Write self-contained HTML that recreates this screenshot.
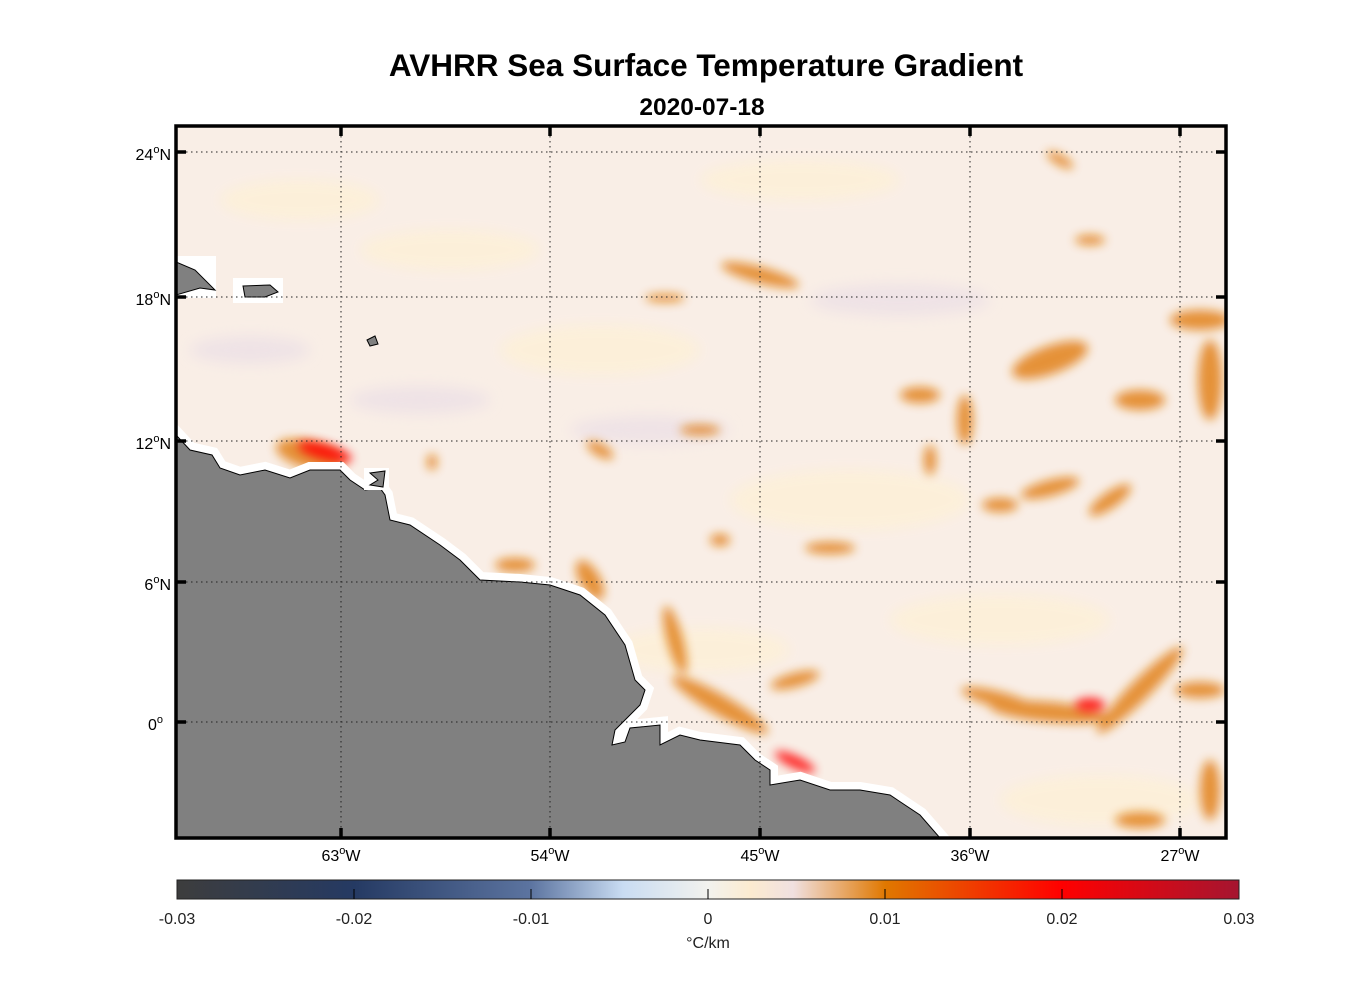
<!DOCTYPE html>
<html><head><meta charset="utf-8"><style>
html,body{margin:0;padding:0;background:#fff;}
svg{display:block;font-family:"Liberation Sans",Arial,sans-serif;}
</style></head><body>
<svg width="1356" height="1000" viewBox="0 0 1356 1000" xmlns="http://www.w3.org/2000/svg">
<defs>
<filter id="b" x="-30%" y="-30%" width="160%" height="160%"><feGaussianBlur stdDeviation="5"/></filter>
<filter id="b2" x="-30%" y="-30%" width="160%" height="160%"><feGaussianBlur stdDeviation="7"/></filter>
<linearGradient id="cb" x1="0" x2="1" y1="0" y2="0">
<stop offset="0" stop-color="#3d3d3d"/>
<stop offset="0.167" stop-color="#253a63"/>
<stop offset="0.333" stop-color="#5c74a0"/>
<stop offset="0.42" stop-color="#c9dcf2"/>
<stop offset="0.5" stop-color="#f2f2ee"/>
<stop offset="0.54" stop-color="#fcebd0"/>
<stop offset="0.58" stop-color="#f0e0e0"/>
<stop offset="0.667" stop-color="#e07800"/>
<stop offset="0.833" stop-color="#ff0000"/>
<stop offset="1" stop-color="#a51530"/>
</linearGradient>
<clipPath id="ax"><rect x="176" y="126" width="1050" height="712"/></clipPath>
</defs>

<text x="706" y="76" text-anchor="middle" font-size="31.5" font-weight="bold">AVHRR Sea Surface Temperature Gradient</text>
<text x="702" y="115" text-anchor="middle" font-size="24.5" font-weight="bold">2020-07-18</text>

<g clip-path="url(#ax)">
<rect x="176" y="126" width="1050" height="712" fill="#f9eee6"/>
<g filter="url(#b2)" fill="#fdf0d8" opacity="0.9">
<ellipse cx="300" cy="200" rx="80" ry="20"/><ellipse cx="600" cy="350" rx="100" ry="25"/>
<ellipse cx="850" cy="500" rx="120" ry="30"/><ellipse cx="1000" cy="620" rx="110" ry="25"/>
<ellipse cx="450" cy="250" rx="90" ry="20"/><ellipse cx="800" cy="180" rx="100" ry="20"/>
<ellipse cx="700" cy="650" rx="90" ry="22"/><ellipse cx="1100" cy="800" rx="100" ry="25"/>
</g>
<g filter="url(#b2)" fill="#ece0e6" opacity="0.8">
<ellipse cx="420" cy="400" rx="70" ry="14"/><ellipse cx="650" cy="430" rx="80" ry="14"/>
<ellipse cx="900" cy="300" rx="90" ry="16"/><ellipse cx="250" cy="350" rx="60" ry="14"/>
</g>
<g filter="url(#b)" fill="#e07a10" opacity="0.8">
<ellipse cx="1050" cy="360" rx="40" ry="14" transform="rotate(-20 1050 360)"/>
<ellipse cx="1200" cy="320" rx="30" ry="10"/>
<ellipse cx="1210" cy="380" rx="12" ry="40"/>
<ellipse cx="1140" cy="400" rx="25" ry="10"/>
<ellipse cx="920" cy="395" rx="20" ry="8"/>
<ellipse cx="965" cy="420" rx="8" ry="25"/>
<ellipse cx="1050" cy="488" rx="30" ry="8" transform="rotate(-15 1050 488)"/>
<ellipse cx="1000" cy="505" rx="18" ry="7"/>
<ellipse cx="1110" cy="500" rx="25" ry="8" transform="rotate(-35 1110 500)"/>
<ellipse cx="1140" cy="690" rx="60" ry="10" transform="rotate(-45 1140 690)"/>
<ellipse cx="1050" cy="712" rx="60" ry="10" transform="rotate(5 1050 712)"/>
<ellipse cx="1000" cy="700" rx="40" ry="8" transform="rotate(15 1000 700)"/>
<ellipse cx="1200" cy="690" rx="25" ry="8"/>
<ellipse cx="1210" cy="790" rx="10" ry="30"/>
<ellipse cx="1140" cy="820" rx="25" ry="8"/>
<ellipse cx="720" cy="705" rx="55" ry="10" transform="rotate(30 720 705)"/>
<ellipse cx="675" cy="640" rx="8" ry="35" transform="rotate(-15 675 640)"/>
<ellipse cx="795" cy="680" rx="25" ry="7" transform="rotate(-15 795 680)"/>
<ellipse cx="830" cy="548" rx="25" ry="6"/>
<ellipse cx="760" cy="275" rx="40" ry="8" transform="rotate(15 760 275)"/>
<ellipse cx="590" cy="580" rx="10" ry="22" transform="rotate(-30 590 580)"/>
<ellipse cx="515" cy="565" rx="20" ry="7"/>
<ellipse cx="310" cy="455" rx="35" ry="14" transform="rotate(15 310 455)"/>
<ellipse cx="432" cy="462" rx="5" ry="8"/>
<ellipse cx="600" cy="450" rx="15" ry="6" transform="rotate(30 600 450)"/>
<ellipse cx="720" cy="540" rx="10" ry="6"/>
<ellipse cx="1060" cy="160" rx="15" ry="5" transform="rotate(30 1060 160)"/>
<ellipse cx="1090" cy="240" rx="15" ry="5"/>
<ellipse cx="665" cy="298" rx="20" ry="4"/>
<ellipse cx="700" cy="430" rx="20" ry="5"/>
<ellipse cx="930" cy="460" rx="6" ry="15"/>
</g>
<g filter="url(#b)" fill="#f00" opacity="0.85">
<ellipse cx="325" cy="452" rx="28" ry="8" transform="rotate(15 325 452)"/>
<ellipse cx="795" cy="762" rx="22" ry="6" transform="rotate(25 795 762)"/>
<ellipse cx="1090" cy="705" rx="15" ry="7"/>
</g>
<path d="M176,435 L190,450 L212,455 L220,468 L240,475 L265,470 L290,478 L310,470 L340,470 L350,480 L365,490 L380,488 L385,495 L390,520 L410,525 L440,545 L460,560 L480,580 L520,582 L550,585 L580,595 L605,615 L625,645 L635,680 L645,690 L640,705 L615,730 L612,745 L625,742 L630,728 L660,725 L660,745 L680,735 L700,740 L740,745 L755,760 L770,770 L770,785 L800,780 L830,790 L860,790 L890,795 L920,815 L940,838 L176,838 Z" fill="#808080" stroke="#fff" stroke-width="16" stroke-linejoin="miter"/>
<path d="M176,435 L190,450 L212,455 L220,468 L240,475 L265,470 L290,478 L310,470 L340,470 L350,480 L365,490 L380,488 L385,495 L390,520 L410,525 L440,545 L460,560 L480,580 L520,582 L550,585 L580,595 L605,615 L625,645 L635,680 L645,690 L640,705 L615,730 L612,745 L625,742 L630,728 L660,725 L660,745 L680,735 L700,740 L740,745 L755,760 L770,770 L770,785 L800,780 L830,790 L860,790 L890,795 L920,815 L940,838 L176,838 Z" fill="#808080" stroke="#000" stroke-width="1"/>
<rect x="176" y="256" width="40" height="42" fill="#fff"/>
<path d="M176,262 L195,270 L215,290 L200,288 L176,295 Z" fill="#808080" stroke="#000"/>
<rect x="233" y="278" width="50" height="25" fill="#fff"/>
<path d="M243,286 L270,285 L278,292 L265,297 L245,297 Z" fill="#808080" stroke="#000"/>
<rect x="364" y="468" width="25" height="22" fill="#fff"/>
<path d="M370,473 L385,471 L383,487 L370,485 L378,480 Z" fill="#808080" stroke="#000"/>
<path d="M367,340 L375,336 L378,344 L370,346 Z" fill="#808080" stroke="#000"/>
</g>
<g stroke="#222" stroke-width="1" stroke-dasharray="1.5,3.5">
<line x1="341" y1="126" x2="341" y2="838"/><line x1="550" y1="126" x2="550" y2="838"/>
<line x1="760" y1="126" x2="760" y2="838"/><line x1="970" y1="126" x2="970" y2="838"/>
<line x1="1180" y1="126" x2="1180" y2="838"/>
<line x1="176" y1="152" x2="1226" y2="152"/><line x1="176" y1="297" x2="1226" y2="297"/>
<line x1="176" y1="441" x2="1226" y2="441"/><line x1="176" y1="582" x2="1226" y2="582"/>
<line x1="176" y1="722" x2="1226" y2="722"/>
</g>
<rect x="176" y="126" width="1050" height="712" fill="none" stroke="#000" stroke-width="3.5"/>
<g stroke="#000" stroke-width="3.5">
<line x1="341" y1="126" x2="341" y2="136"/><line x1="550" y1="126" x2="550" y2="136"/><line x1="760" y1="126" x2="760" y2="136"/><line x1="970" y1="126" x2="970" y2="136"/><line x1="1180" y1="126" x2="1180" y2="136"/>
<line x1="341" y1="838" x2="341" y2="828"/><line x1="550" y1="838" x2="550" y2="828"/><line x1="760" y1="838" x2="760" y2="828"/><line x1="970" y1="838" x2="970" y2="828"/><line x1="1180" y1="838" x2="1180" y2="828"/>
<line x1="176" y1="152" x2="186" y2="152"/><line x1="176" y1="297" x2="186" y2="297"/><line x1="176" y1="441" x2="186" y2="441"/><line x1="176" y1="582" x2="186" y2="582"/><line x1="176" y1="722" x2="186" y2="722"/>
<line x1="1226" y1="152" x2="1216" y2="152"/><line x1="1226" y1="297" x2="1216" y2="297"/><line x1="1226" y1="441" x2="1216" y2="441"/><line x1="1226" y1="582" x2="1216" y2="582"/><line x1="1226" y1="722" x2="1216" y2="722"/>
</g>
<g font-size="16" text-anchor="end">
<text x="171" y="160">24<tspan font-size="11" dy="-7">o</tspan><tspan dy="7">N</tspan></text>
<text x="171" y="305">18<tspan font-size="11" dy="-7">o</tspan><tspan dy="7">N</tspan></text>
<text x="171" y="449">12<tspan font-size="11" dy="-7">o</tspan><tspan dy="7">N</tspan></text>
<text x="171" y="590">6<tspan font-size="11" dy="-7">o</tspan><tspan dy="7">N</tspan></text>
<text x="163" y="730">0<tspan font-size="11" dy="-7">o</tspan></text>
</g>
<g font-size="16" text-anchor="middle">
<text x="341" y="861">63<tspan font-size="11" dy="-7">o</tspan><tspan dy="7">W</tspan></text>
<text x="550" y="861">54<tspan font-size="11" dy="-7">o</tspan><tspan dy="7">W</tspan></text>
<text x="760" y="861">45<tspan font-size="11" dy="-7">o</tspan><tspan dy="7">W</tspan></text>
<text x="970" y="861">36<tspan font-size="11" dy="-7">o</tspan><tspan dy="7">W</tspan></text>
<text x="1180" y="861">27<tspan font-size="11" dy="-7">o</tspan><tspan dy="7">W</tspan></text>
</g>
<rect x="177" y="880" width="1062" height="19" fill="url(#cb)" stroke="#222" stroke-width="1"/>
<g stroke="#000" stroke-width="1">
<line x1="354" y1="889" x2="354" y2="899"/><line x1="531" y1="889" x2="531" y2="899"/><line x1="708" y1="889" x2="708" y2="899"/><line x1="885" y1="889" x2="885" y2="899"/><line x1="1062" y1="889" x2="1062" y2="899"/>
</g>
<g font-size="16" text-anchor="middle" fill="#222">
<text x="177" y="924">-0.03</text><text x="354" y="924">-0.02</text><text x="531" y="924">-0.01</text><text x="708" y="924">0</text><text x="885" y="924">0.01</text><text x="1062" y="924">0.02</text><text x="1239" y="924">0.03</text>
<text x="708" y="948">°C/km</text>
</g>
</svg>
</body></html>
